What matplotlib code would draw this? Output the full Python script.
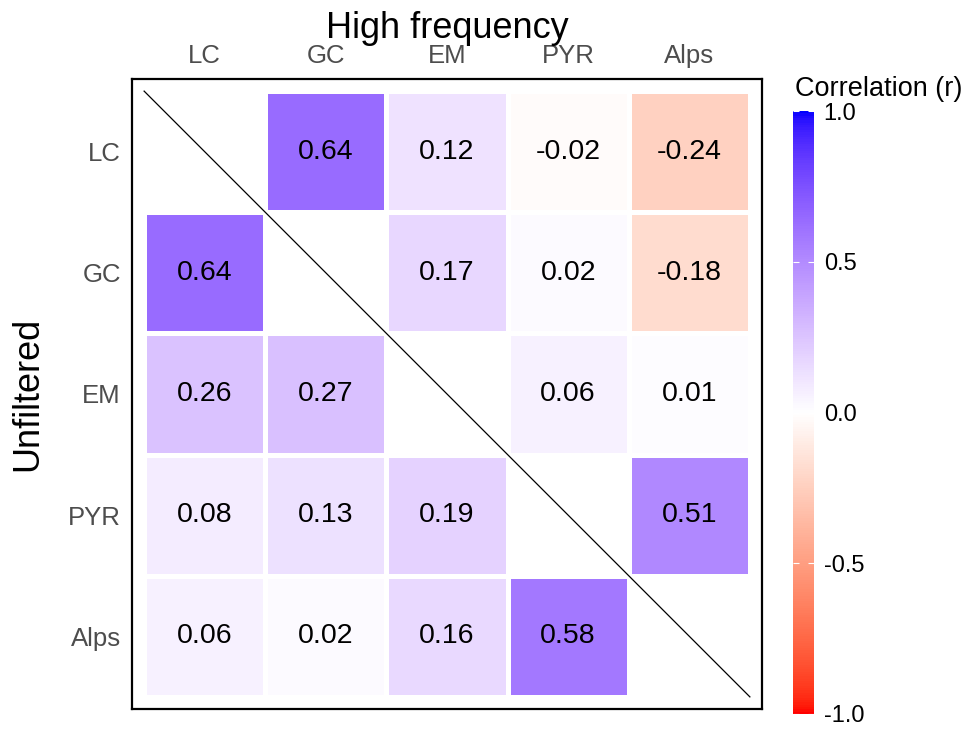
import numpy as np
import matplotlib
matplotlib.use("Agg")
import matplotlib.pyplot as plt
from matplotlib.colors import ListedColormap, Normalize
from matplotlib.cm import ScalarMappable

plt.rcParams['font.family'] = ['Liberation Sans', 'DejaVu Sans']

# Datos: etiquetas y correlaciones (triangulo superior = alta frecuencia, inferior = sin filtrar)
regiones = ['LC', 'GC', 'EM', 'PYR', 'Alps']
# pares (fila, columna) del triangulo superior, en orden de lectura
alta_frec = [0.64, 0.12, -0.02, -0.24,
             0.17, 0.02, -0.18,
             0.06, 0.01,
             0.51]
# pares (fila, columna) del triangulo inferior, en orden de lectura
sin_filtrar = [0.64,
               0.26, 0.27,
               0.08, 0.13, 0.19,
               0.06, 0.02, 0.16, 0.58]

n = len(regiones)
matriz = np.full((n, n), np.nan)
k = 0
for i in range(n):
    for j in range(i + 1, n):
        matriz[i, j] = alta_frec[k]
        k += 1
k = 0
for i in range(n):
    for j in range(i):
        matriz[i, j] = sin_filtrar[k]
        k += 1


# Gradiente divergente interpolado en CIELAB (como scale_fill_gradient2)
def srgb_a_lab(rgb):
    c = np.asarray(rgb, float)
    lin = np.where(c <= 0.04045, c / 12.92, ((c + 0.055) / 1.055) ** 2.4)
    M = np.array([[0.4124564, 0.3575761, 0.1804375],
                  [0.2126729, 0.7151522, 0.0721750],
                  [0.0193339, 0.1191920, 0.9503041]])
    xyz = M @ lin / np.array([0.95047, 1.0, 1.08883])
    d = 6 / 29
    f = np.where(xyz > d ** 3, np.cbrt(xyz), xyz / (3 * d ** 2) + 4 / 29)
    return np.array([116 * f[1] - 16, 500 * (f[0] - f[1]), 200 * (f[1] - f[2])])


def lab_a_srgb(lab):
    L, a, b = lab
    fy = (L + 16) / 116
    fx = fy + a / 500
    fz = fy - b / 200
    d = 6 / 29
    f = np.array([fx, fy, fz])
    xyz = np.where(f > d, f ** 3, 3 * d ** 2 * (f - 4 / 29)) * np.array([0.95047, 1.0, 1.08883])
    Minv = np.array([[3.2404542, -1.5371385, -0.4985314],
                     [-0.9692660, 1.8760108, 0.0415560],
                     [0.0556434, -0.2040259, 1.0572252]])
    lin = Minv @ xyz
    lin = np.clip(lin, 0, 1)
    c = np.where(lin <= 0.0031308, 12.92 * lin, 1.055 * lin ** (1 / 2.4) - 0.055)
    return np.clip(c, 0, 1)


rojo = srgb_a_lab([1, 0, 0])
blanco = srgb_a_lab([1, 1, 1])
azul = srgb_a_lab([0, 0, 1])
colores = []
for v in np.linspace(-1, 1, 256):
    if v < 0:
        lab = blanco + (-v) * (rojo - blanco)
    else:
        lab = blanco + v * (azul - blanco)
    colores.append(lab_a_srgb(lab))
cmap = ListedColormap(colores)
norm = Normalize(vmin=-1, vmax=1)

fig = plt.figure(figsize=(9.66, 7.29), dpi=100)
ax = fig.add_axes([132 / 966, 1 - 709 / 729, 630 / 966, 630 / 729])

bordes = np.arange(n + 1) + 0.5
ax.pcolormesh(bordes, bordes, np.ma.masked_invalid(matriz), cmap=cmap, norm=norm,
              edgecolors='white', linewidth=3.6)

for i in range(n):
    for j in range(n):
        if not np.isnan(matriz[i, j]):
            ax.text(j + 1, i + 1, f"{matriz[i, j]:.2f}", ha='center', va='center',
                    fontsize=20.5, color='black')

# linea diagonal
ax.plot([0.5, n + 0.5], [0.5, n + 0.5], color='black', linewidth=0.9)

ax.set_xlim(0.4, n + 0.6)
ax.set_ylim(n + 0.6, 0.4)
ax.set_xticks(np.arange(1, n + 1))
ax.set_yticks(np.arange(1, n + 1))
ax.set_xticklabels(regiones)
ax.set_yticklabels(regiones)
ax.xaxis.tick_top()
ax.tick_params(length=0, pad=8, labelsize=18.5, labelcolor='#4D4D4D')
for s in ax.spines.values():
    s.set_linewidth(1.6)
    s.set_color('black')

fig.text(447 / 966, 1 - 38 / 729, 'High frequency', ha='center', va='baseline', fontsize=26)
fig.text(28 / 966, 1 - 394 / 729, 'Unfiltered', ha='center', va='center',
         rotation=90, fontsize=26)

# barra de color
cax = fig.add_axes([793 / 966, 1 - 714 / 729, 21 / 966, 603 / 729])
cb = fig.colorbar(ScalarMappable(norm=norm, cmap=cmap), cax=cax)
cb.outline.set_visible(False)
cb.set_ticks([-1, -0.5, 0, 0.5, 1])
cb.set_ticklabels(['-1.0', '-0.5', '0.0', '0.5', '1.0'])
cax.tick_params(axis='y', direction='in', length=4, width=0.8, color='white',
                left=True, right=True, labelsize=17, pad=7)
fig.text(795 / 966, 1 - 96 / 729, 'Correlation (r)', ha='left', va='baseline', fontsize=19.5)

fig.savefig('out.png', dpi=100)
